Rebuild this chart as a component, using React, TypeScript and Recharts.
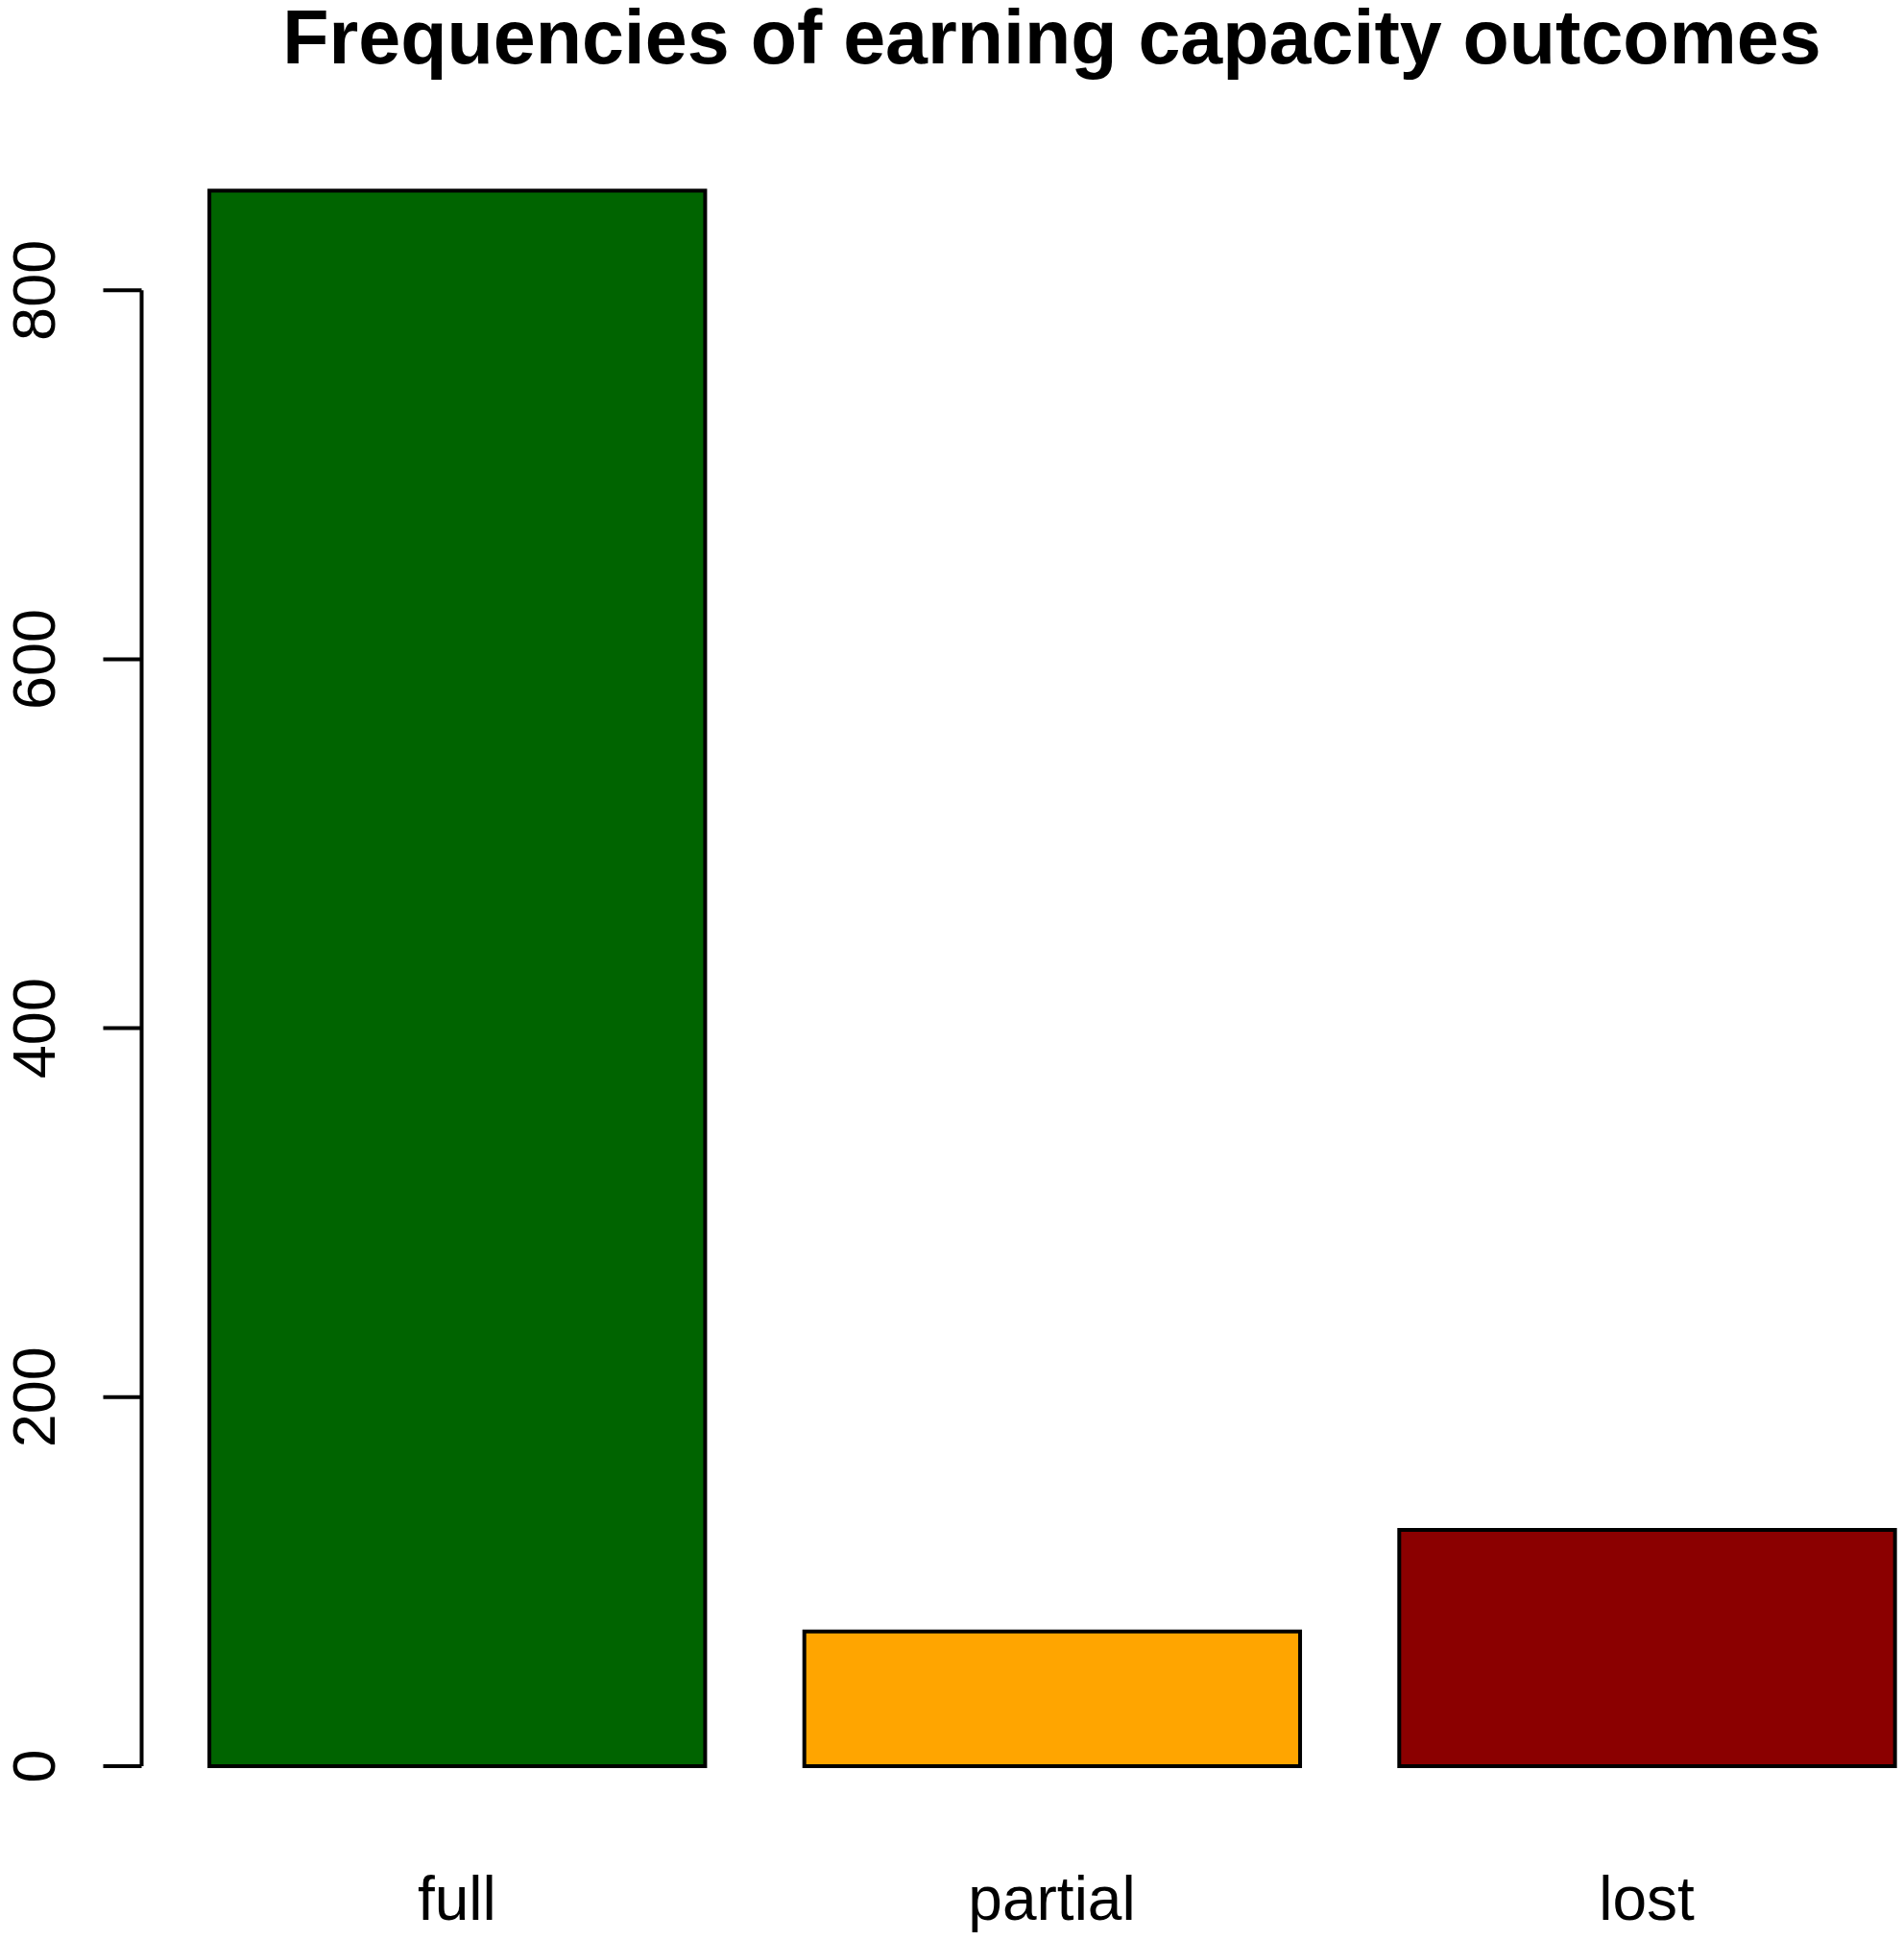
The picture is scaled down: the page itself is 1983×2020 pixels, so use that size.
import { Bar, BarChart, Cell, ReferenceLine, XAxis, YAxis } from "recharts"

const categories = ["full", "partial", "lost"]
const counts = [854, 73, 128]
const barColors = ["#006400", "#FFA500", "#8B0000"]
const yTicks = [0, 200, 400, 600, 800]

const TITLE = "Frequencies of earning capacity outcomes"
const FONT = '"Liberation Sans", Arial, Helvetica, sans-serif'

// R barplot geometry: width 1, space 0.2, axis range padded by 4%
const BAR_W = 1
const SPACE = 0.2
const xLo = SPACE
const xHi = categories.length * (BAR_W + SPACE)
const xPad = (xHi - xLo) * 0.04
const X_DOMAIN: [number, number] = [xLo - xPad, xHi + xPad]

const yMax = Math.max(...counts)
const Y_DOMAIN: [number, number] = [-0.04 * yMax, 1.04 * yMax]

const W = 2043.5
const H = 2020
const LEFT = 147.5
const TOP = 133
const BOTTOM = 115.5
const plotW = W - LEFT
const barPx = (plotW / (X_DOMAIN[1] - X_DOMAIN[0])) * BAR_W

const rows = categories.map((name, i) => ({
  name,
  pos: SPACE + i * (BAR_W + SPACE) + BAR_W / 2,
  count: counts[i],
}))

function YTick({ x, y, payload }: { x?: number; y?: number; payload?: { value: number } }) {
  if (x == null || y == null || !payload) return null
  const lx = x - 90
  return (
    <g>
      <line x1={x - 40} x2={x} y1={y} y2={y} stroke="#000" strokeWidth={4} />
      <text
        x={lx}
        y={y}
        transform={`rotate(-90, ${lx}, ${y})`}
        textAnchor="middle"
        fontSize={63}
        fontFamily={FONT}
        fill="#000"
      >
        {payload.value}
      </text>
    </g>
  )
}

function XTick({ x, y, payload }: { x?: number; y?: number; payload?: { value: number } }) {
  if (x == null || y == null || !payload) return null
  const row = rows.find((r) => Math.abs(r.pos - payload.value) < 1e-6)
  return (
    <text x={x} y={y + 94} textAnchor="middle" fontSize={64} fontFamily={FONT} fill="#000">
      {row ? row.name : ""}
    </text>
  )
}

export default function App() {
  return (
    <div
      style={{
        position: "fixed",
        left: 0,
        top: 0,
        width: 1983,
        height: 2020,
        overflow: "hidden",
        background: "#fff",
      }}
    >
      <div
        style={{
          position: "absolute",
          left: LEFT + plotW / 2,
          top: 3,
          transform: "translateX(-50%)",
          whiteSpace: "nowrap",
          fontFamily: FONT,
          fontWeight: "bold",
          fontSize: 79,
          lineHeight: 0.92,
          color: "#000",
        }}
      >
        {TITLE}
      </div>
      <BarChart
        width={W}
        height={H}
        data={rows}
        margin={{ top: TOP, right: 0, bottom: 0, left: 0 }}
      >
        <XAxis
          type="number"
          dataKey="pos"
          domain={X_DOMAIN}
          ticks={rows.map((r) => r.pos)}
          axisLine={false}
          tickLine={false}
          tickSize={0}
          tickMargin={0}
          height={BOTTOM}
          tick={<XTick />}
          interval={0}
        />
        <YAxis
          domain={Y_DOMAIN}
          ticks={yTicks}
          axisLine={false}
          tickLine={false}
          tickSize={0}
          tickMargin={0}
          width={LEFT}
          tick={<YTick />}
          interval={0}
        />
        <ReferenceLine
          segment={[
            { x: X_DOMAIN[0], y: yTicks[0] },
            { x: X_DOMAIN[0], y: yTicks[yTicks.length - 1] },
          ]}
          stroke="#000"
          strokeWidth={4}
          ifOverflow="visible"
        />
        <Bar dataKey="count" barSize={barPx} stroke="#000" strokeWidth={4} isAnimationActive={false}>
          {rows.map((r, i) => (
            <Cell key={r.name} fill={barColors[i]} />
          ))}
        </Bar>
      </BarChart>
    </div>
  )
}
